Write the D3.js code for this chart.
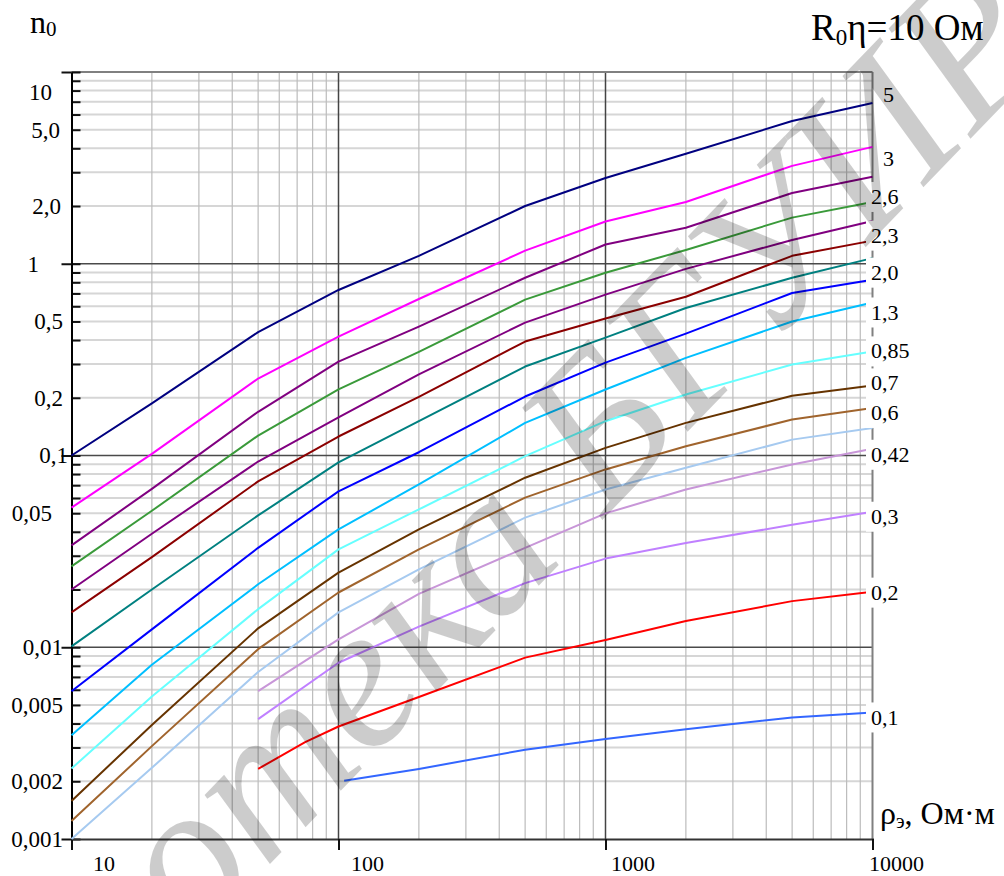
<!DOCTYPE html>
<html>
<head>
<meta charset="utf-8">
<script src="https://cdn.jsdelivr.net/npm/d3@7"></script>
<style>
  html, body { margin: 0; padding: 0; background: #fff; }
  svg { display: block; }
  text { font-family: "Liberation Serif", "Times New Roman", serif; fill: #000; }
</style>
</head>
<body>
<svg id="chart" width="1004" height="876"></svg>
<script>
// ---- data: n0 versus equivalent resistivity ρэ (Ом·м), R0η = 10 Ом ----
const rho      = [10, 20, 50, 100, 200, 500, 1000, 2000, 5000, 10000];
const rhoFrom50 = [50, 100, 200, 500, 1000, 2000, 5000, 10000];
const rhoRed   = [50, 75, 100, 200, 500, 1000, 2000, 5000, 10000];
const rhoLow   = [105, 200, 500, 1000, 2000, 5000, 10000];

const n_5    = [0.1, 0.187, 0.44, 0.73, 1.1, 2.0, 2.8, 3.75, 5.55, 6.9];
const n_3    = [0.0535, 0.102, 0.252, 0.417, 0.655, 1.17, 1.66, 2.1, 3.24, 4.07];
const n_28   = [0.034, 0.067, 0.169, 0.309, 0.47, 0.845, 1.26, 1.54, 2.34, 2.84];
const n_26   = [0.0264, 0.0515, 0.127, 0.221, 0.347, 0.65, 0.898, 1.18, 1.74, 2.1];
const n_24   = [0.020, 0.0391, 0.093, 0.158, 0.265, 0.493, 0.69, 0.94, 1.33, 1.67];
const n_23   = [0.0152, 0.0295, 0.0733, 0.1256, 0.202, 0.393, 0.518, 0.673, 1.10, 1.32];
const n_21   = [0.0101, 0.020, 0.0487, 0.092, 0.151, 0.291, 0.412, 0.588, 0.845, 1.07];
const n_20   = [0.0059, 0.0124, 0.033, 0.065, 0.104, 0.203, 0.305, 0.432, 0.704, 0.826];
const n_13   = [0.00348, 0.0081, 0.0213, 0.0412, 0.0706, 0.148, 0.221, 0.323, 0.50, 0.628];
const n_085  = [0.00233, 0.00553, 0.0158, 0.0324, 0.0523, 0.0992, 0.151, 0.208, 0.298, 0.349];
const n_07   = [0.00158, 0.00393, 0.01255, 0.0245, 0.0412, 0.0766, 0.1096, 0.148, 0.205, 0.232];
const n_06   = [0.00124, 0.00305, 0.00977, 0.0193, 0.0324, 0.0603, 0.0846, 0.1118, 0.154, 0.177];
const n_05   = [0.001, 0.00235, 0.00743, 0.0152, 0.0255, 0.0474, 0.0665, 0.0863, 0.121, 0.139];
const n_042  = [0.00591, 0.011, 0.019, 0.033, 0.0499, 0.0665, 0.0898, 0.1084];
const n_03   = [0.00422, 0.0083, 0.0128, 0.0216, 0.029, 0.035, 0.0435, 0.0509];
const n_02   = [0.00232, 0.0032, 0.00386, 0.0055, 0.00883, 0.0109, 0.0137, 0.0174, 0.0195];
const n_01   = [0.00201, 0.00232, 0.00292, 0.00332, 0.00374, 0.0043, 0.00457];

const curveLabels = ["5", "3", "", "2,6", "", "2,3", "", "2,0", "1,3", "0,85", "0,7", "0,6", "", "0,42", "0,3", "0,2", "0,1"];

const yTickValues = [10, 5, 2, 1, 0.5, 0.2, 0.1, 0.05, 0.01, 0.005, 0.002, 0.001];
const yTickLabels = ["10", "5,0", "2,0", "1", "0,5", "0,2", "0,1", "0,05", "0,01", "0,005", "0,002", "0,001"];
const xTickValues = [10, 100, 1000, 10000];
const xTickLabels = ["10", "100", "1000", "10000"];

// ---- styling ----
const curveColors = ["#000080", "#ff00ff", "#800080", "#3a9a3a", "#800080", "#8b0000", "#008080",
  "#0000ff", "#00bfff", "#66ffff", "#663300", "#a0642d", "#a6caf0", "#c896d8", "#c080ff", "#ff0000", "#3366ff"];
// vertical offset of each end label from its curve end (px)
const labelDy = [-8, 12, 0, -5, 0, -5, 0, -7, 10, 0, -2, 5, 0, 6, 5, 1, 5];
// horizontal shift of the left tick labels from the common right edge (px)
const yLabelDx = {"10": -11, "5,0": -3, "2,0": -2, "1": -24, "0,1": 5, "0,05": -11};
const xLabelDx = {"10": 21, "100": 12, "1000": 5, "10000": -4};

const rhoSets = [rho, rho, rho, rho, rho, rho, rho, rho, rho, rho, rho, rho, rho, rhoFrom50, rhoFrom50, rhoRed, rhoLow];
const nSets = [n_5, n_3, n_28, n_26, n_24, n_23, n_21, n_20, n_13, n_085, n_07, n_06, n_05, n_042, n_03, n_02, n_01];
const series = nSets.map((n, i) => ({
  points: n.map((v, j) => [rhoSets[i][j], v]),
  color: curveColors[i],
  label: curveLabels[i],
  dy: labelDy[i]
}));

// ---- scales ----
const pL = 71.5, pR = 872.5, pT = 72, pB = 839;
const x = d3.scaleLog().domain([10, 10000]).range([pL, pR]);
const y = d3.scaleLog().domain([0.001, 10]).range([pB, pT]);

const svg = d3.select("#chart");

// grid values
const minorY = [0.001, 0.01, 0.1, 1].flatMap(d => d3.range(2, 10).map(k => +(d * k).toPrecision(3)));
const majorY = [0.01, 0.1, 1];
const minorX = [10, 100, 1000].flatMap(d => d3.range(2, 10).map(k => d * k));
const majorX = [100, 1000];

const grid = svg.append("g");
grid.append("g").selectAll("line").data(minorY).join("line")
  .attr("x1", pL).attr("x2", pR)
  .attr("y1", d => y(d)).attr("y2", d => y(d))
  .attr("stroke", "#d6d6d6").attr("stroke-width", 2);
grid.append("g").selectAll("line").data(minorX).join("line")
  .attr("y1", pT).attr("y2", pB)
  .attr("x1", d => x(d)).attr("x2", d => x(d))
  .attr("stroke", "#bcbcbc").attr("stroke-width", 1.2);
grid.append("g").selectAll("line").data(majorY).join("line")
  .attr("x1", pL).attr("x2", pR)
  .attr("y1", d => y(d)).attr("y2", d => y(d))
  .attr("stroke", "#4a4a4a").attr("stroke-width", 1.6);
grid.append("g").selectAll("line").data(majorX).join("line")
  .attr("y1", pT).attr("y2", pB)
  .attr("x1", d => x(d)).attr("x2", d => x(d))
  .attr("stroke", "#444").attr("stroke-width", 1.5);

// frame
svg.append("line").attr("x1", pL).attr("x2", pR).attr("y1", pT).attr("y2", pT)
  .attr("stroke", "#808080").attr("stroke-width", 2);
svg.append("line").attr("x1", pR).attr("x2", pR).attr("y1", pT).attr("y2", pB)
  .attr("stroke", "#808080").attr("stroke-width", 2);

// left axis: short inward ticks at every grid value
const yInner = d3.axisLeft(y).tickValues([10, ...majorY, 0.001, ...minorY]).tickSize(-9).tickFormat("");
svg.append("g").attr("transform", `translate(${pL},0)`).call(yInner)
  .call(g => g.select(".domain").remove())
  .call(g => g.selectAll(".tick line").attr("stroke", "#111").attr("stroke-width", 2));

// left axis with labels; decades get outward ticks
const yAxis = d3.axisLeft(y).tickValues(yTickValues)
  .tickFormat((d, i) => yTickLabels[i]).tickSize(0).tickPadding(8);
const yg = svg.append("g").attr("transform", `translate(${pL},0)`).call(yAxis);
yg.select(".domain").attr("stroke", "#000").attr("stroke-width", 2);
yg.selectAll(".tick line").filter(d => [10, 1, 0.1, 0.01, 0.001].includes(d))
  .attr("x2", -10).attr("stroke", "#111").attr("stroke-width", 2);
yg.selectAll(".tick text")
  .attr("font-family", "Liberation Serif, serif").attr("font-size", 23).attr("fill", "#000")
  .attr("x", (d, i) => -8.5 + (yLabelDx[yTickLabels[i]] || 0))
  .attr("y", d => d === 10 ? 20 : 0);

// bottom axis
const xAxis = d3.axisBottom(x).tickValues(xTickValues)
  .tickFormat((d, i) => xTickLabels[i]).tickSize(11).tickPadding(0);
const xg = svg.append("g").attr("transform", `translate(0,${pB})`).call(xAxis);
xg.select(".domain").attr("stroke", "#333").attr("stroke-width", 2);
xg.selectAll(".tick line").attr("stroke", "#111").attr("stroke-width", 2);
xg.selectAll(".tick text")
  .attr("font-family", "Liberation Serif, serif").attr("font-size", 22).attr("fill", "#000")
  .attr("text-anchor", "start").attr("dy", null).attr("y", 32)
  .attr("x", (d, i) => xLabelDx[xTickLabels[i]]);

// curves
const line = d3.line().x(d => x(d[0])).y(d => y(d[1]));
svg.append("g").selectAll("path").data(series).join("path")
  .attr("d", d => line(d.points))
  .attr("fill", "none")
  .attr("stroke", d => d.color)
  .attr("stroke-width", 2)
  .attr("stroke-linejoin", "round");

// end labels of the curves
const labelled = series.filter(s => s.label);
const lab = svg.append("g").selectAll("g").data(labelled).join("g")
  .attr("transform", d => {
    const last = d.points[d.points.length - 1];
    return `translate(0,${y(last[1]) + d.dy})`;
  });
lab.filter(d => d.label !== "5" && d.label !== "3").append("rect")
  .attr("x", pR - 6.5).attr("y", -15).attr("width", 50).attr("height", 30)
  .attr("fill", "#fff");
lab.append("text")
  .attr("x", d => (d.label === "5" || d.label === "3") ? pR + 10.5 : pR - 1.5)
  .attr("dy", "0.32em")
  .attr("font-size", 22)
  .text(d => d.label);

// titles
const t1 = svg.append("text").attr("x", 30).attr("y", 33).attr("font-size", 32);
t1.append("tspan").text("n");
t1.append("tspan").attr("font-size", 21).attr("dy", 3).text("0");

const t2 = svg.append("text").attr("x", 811).attr("y", 40).attr("font-size", 37);
t2.append("tspan").text("R");
t2.append("tspan").attr("font-size", 23).attr("dy", 5).text("0");
t2.append("tspan").attr("dy", -5).text("η=10 Ом");

const t3 = svg.append("text").attr("x", 880).attr("y", 824).attr("font-size", 32);
t3.append("tspan").text("ρ");
t3.append("tspan").attr("font-size", 20).attr("dy", 4).text("э");
t3.append("tspan").attr("dy", -4).text(", Ом·м");

// library stamp across the sheet
svg.append("text")
  .attr("transform", "translate(1059,47) rotate(-46)")
  .attr("text-anchor", "end")
  .attr("font-family", "Roboto, 'DejaVu Sans', sans-serif")
  .attr("font-style", "italic")
  .attr("font-size", 207)
  .attr("fill", "#000").attr("fill-opacity", 0.2)
  .text("Библиотека БГУИР");
</script>
</body>
</html>
